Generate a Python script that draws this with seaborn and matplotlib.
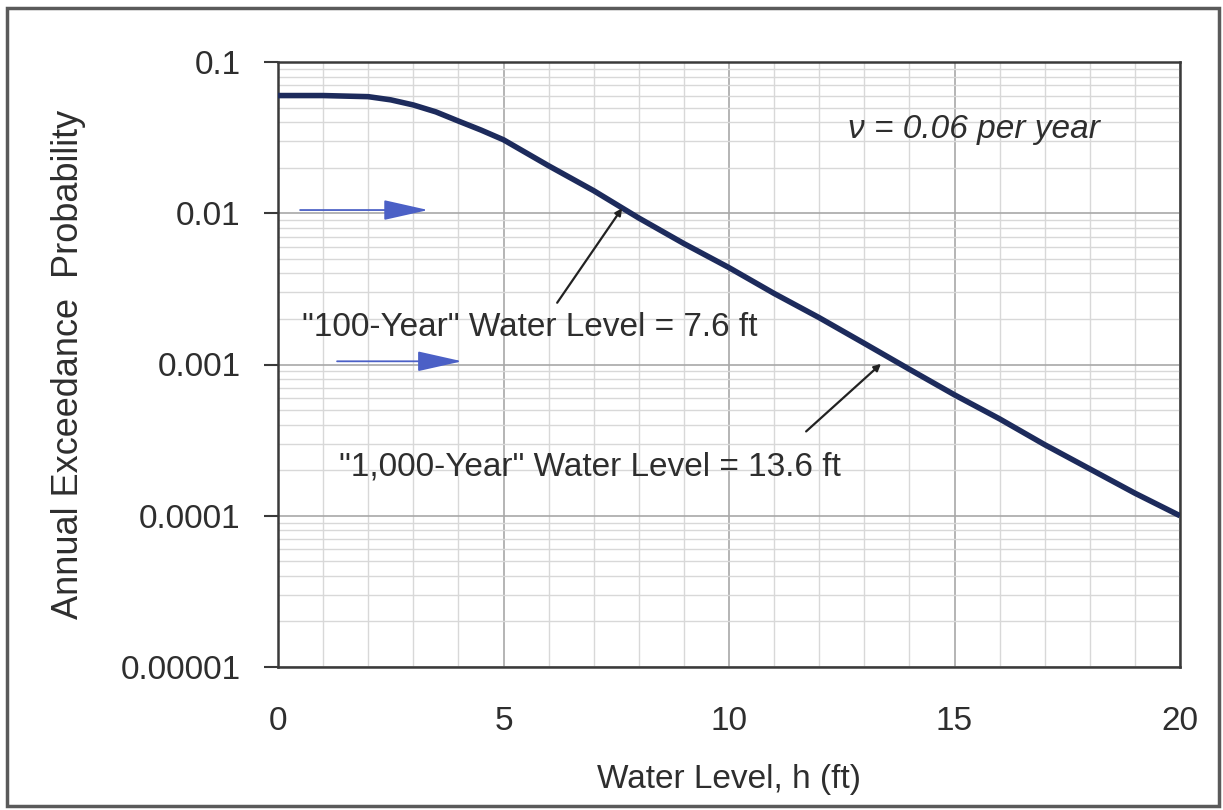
import numpy as np
import pandas as pd
import matplotlib
matplotlib.use("Agg")
import matplotlib.pyplot as plt
import seaborn as sns
from matplotlib.ticker import LogLocator, MultipleLocator, NullFormatter
from matplotlib.patches import Rectangle

# ---- data ----
water_level_ft = [0, 1, 2, 2.5, 3, 3.5, 4, 4.5, 5, 6, 7, 8, 9, 10, 11, 12, 13,
                  14, 15, 16, 17, 18, 19, 20]
exceed_prob = [0.06, 0.06, 0.059, 0.0562, 0.052, 0.0468, 0.0407, 0.0355, 0.0306,
               0.0206, 0.0141, 0.0093, 0.0063, 0.00437, 0.00295, 0.00204,
               0.00138, 0.00093, 0.00063, 0.000437, 0.000295, 0.000204,
               0.000141, 0.0001]

y_tick_values = [1e-5, 1e-4, 1e-3, 1e-2, 1e-1]
y_tick_labels = ["0.00001", "0.0001", "0.001", "0.01", "0.1"]
x_tick_values = [0, 5, 10, 15, 20]
x_tick_labels = ["0", "5", "10", "15", "20"]

label_100 = "\"100-Year\" Water Level = 7.6 ft"
label_1000 = "\"1,000-Year\" Water Level = 13.6 ft"
label_nu = "\u03bd = 0.06 per year"
x_title = "Water Level, h (ft)"
y_title = "Annual Exceedance  Probability"

sns.set_theme(style="white")
plt.rcParams["font.family"] = ["Liberation Sans", "DejaVu Sans"]

fig = plt.figure(figsize=(12.23, 8.10), dpi=100)
fig.patch.set_facecolor("white")
ax = fig.add_axes([278 / 1223, 1 - 667 / 810, (1180 - 278) / 1223, (667 - 62) / 810])

df = pd.DataFrame({"h": water_level_ft, "p": exceed_prob})
sns.lineplot(data=df, x="h", y="p", ax=ax, color="#1d2b5c", linewidth=4.0,
             zorder=5, solid_capstyle="butt", solid_joinstyle="round")

ax.set_yscale("log")
ax.set_xlim(0, 20)
ax.set_ylim(1e-5, 0.1)
ax.set_yticks(y_tick_values)
ax.set_yticklabels(y_tick_labels)
ax.yaxis.set_minor_locator(LogLocator(base=10, subs=np.arange(2, 10) * 1.0, numticks=20))
ax.yaxis.set_minor_formatter(NullFormatter())
ax.set_xticks(x_tick_values)
ax.set_xticklabels(x_tick_labels)
ax.xaxis.set_minor_locator(MultipleLocator(1))

ax.grid(which="major", axis="both", color="#a8a8a8", linewidth=1.2, zorder=0)
ax.grid(which="minor", axis="both", color="#d8d8d8", linewidth=1.0, zorder=0)
ax.set_axisbelow(True)

for s in ax.spines.values():
    s.set_color("#3a3a3a")
    s.set_linewidth(1.8)
    s.set_visible(True)

ax.tick_params(axis="y", which="major", direction="out", length=10, width=1.5,
               color="#3a3a3a", labelsize=24, labelcolor="#2e2e2e", pad=17, left=True)
ax.tick_params(axis="y", which="minor", length=0)
ax.tick_params(axis="x", which="both", length=0, labelsize=24, labelcolor="#2e2e2e", pad=28)

ax.set_xlabel(x_title, fontsize=24, color="#2e2e2e")
ax.set_ylabel(y_title, fontsize=26, color="#2e2e2e")
ax.xaxis.set_label_coords(0.5, -0.16)
ax.yaxis.set_label_coords(-0.213, 0.5)

# annotation texts
ax.text(0.53, 0.00175, label_100, fontsize=24, color="#2e2e2e",
        va="center", ha="left", zorder=6)
ax.text(1.35, 0.000209, label_1000, fontsize=24, color="#2e2e2e",
        va="center", ha="left", zorder=6)
ax.text(12.64, 0.0356, label_nu, fontsize=24, style="italic", color="#2e2e2e",
        va="center", ha="left", zorder=6)

# leader arrows
for (xs, ys, xt, yt) in [(6.19, 0.00256, 7.63, 0.0108), (11.71, 0.000361, 13.37, 0.00101)]:
    ax.annotate("", xy=(xt, yt), xytext=(xs, ys),
                arrowprops=dict(arrowstyle="-|>", color="#222222", lw=1.6,
                                mutation_scale=10, shrinkA=0, shrinkB=0), zorder=6)

# hand-drawn blue arrows
for (x0, x1, yv) in [(0.49, 3.33, 0.0105), (1.31, 4.08, 0.00105)]:
    ax.annotate("", xy=(x1, yv), xytext=(x0, yv),
                arrowprops=dict(arrowstyle="-|>,head_length=2.0,head_width=0.45",
                                color="#4b60c6", lw=1.3, mutation_scale=14,
                                shrinkA=0, shrinkB=0), zorder=6)

# outer frame
fig.add_artist(Rectangle((7 / 1223, 4 / 810), (1219 - 7) / 1223, (802 - 4) / 810,
                         transform=fig.transFigure, fill=False,
                         edgecolor="#5a5a5a", linewidth=2.5))

fig.savefig("out.png", dpi=100, facecolor="white")
